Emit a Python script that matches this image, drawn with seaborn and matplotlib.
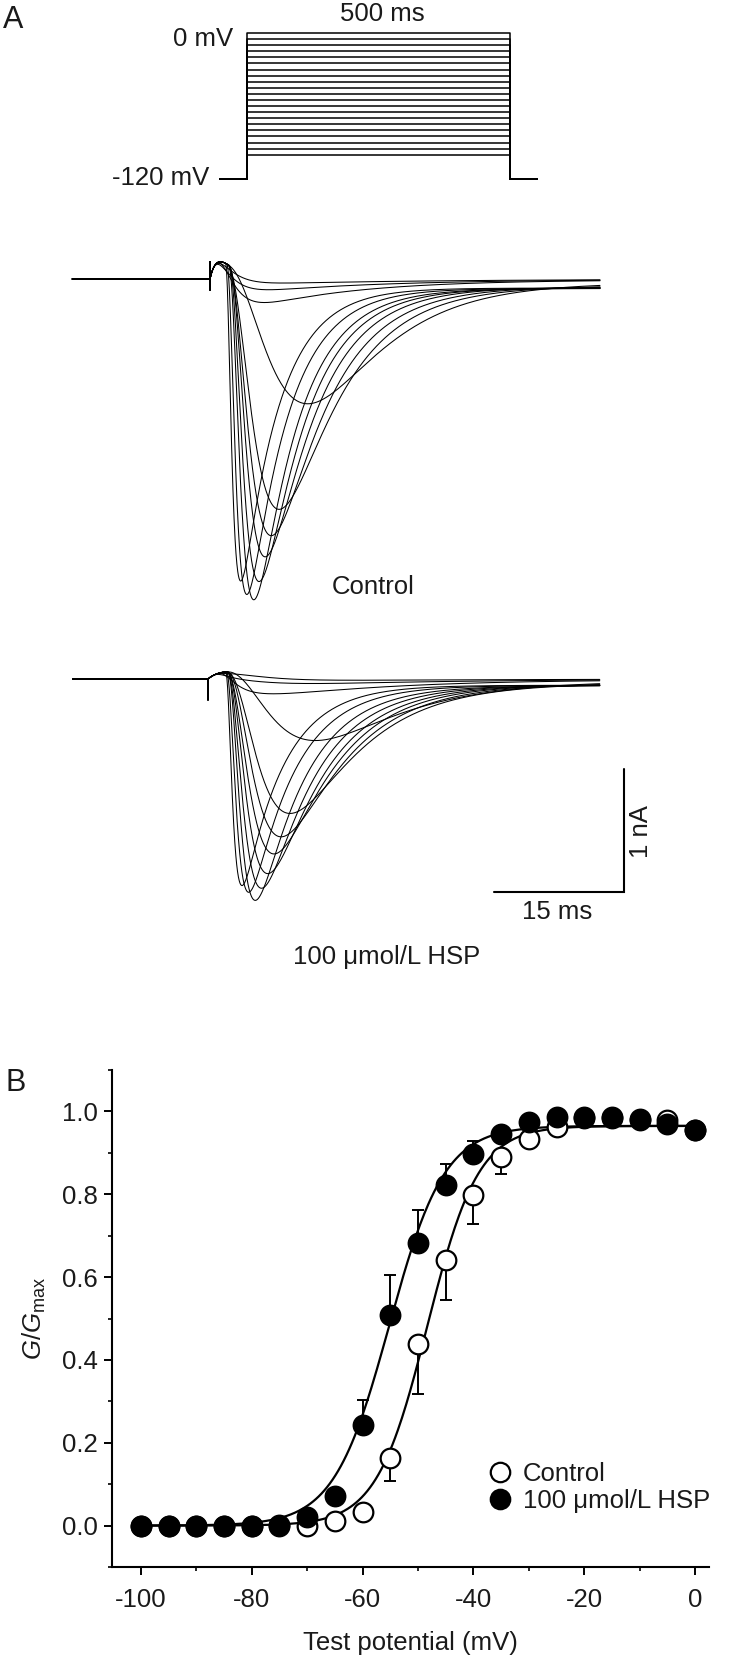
import numpy as np
import pandas as pd
import matplotlib
matplotlib.use("Agg")
import matplotlib.pyplot as plt
from matplotlib.lines import Line2D
from matplotlib.ticker import MultipleLocator
import seaborn as sns

# ---------------- data ----------------
# Panel A: voltage protocol
hold_mV = -120
test_mV = [-100, -95, -90, -85, -80, -75, -70, -65, -60, -55, -50,
           -45, -40, -35, -30, -25, -20, -15, -10, -5, 0]
pre_ms, pulse_ms, post_ms = 51, 500, 51

# Panel A: sodium current sweeps (peak nA, time to peak ms, rise tau ms, decay tau ms)
ctrl_peak_nA = [2.45, 2.54, 2.57, 2.42, 2.22, 2.05, 1.84, 1.00, 0.20, 0.10, 0.04]
ctrl_tpeak_ms = [3.5, 4.2, 5.0, 5.6, 6.3, 7.0, 7.9, 11.2, 5.4, 4.5, 4.2]
ctrl_rise_ms = [0.55, 0.8, 1.1, 1.4, 1.8, 2.3, 3.0, 6.0, 1.5, 1.2, 1.0]
ctrl_decay_ms = [4.2, 4.5, 4.8, 5.1, 5.5, 6.0, 6.5, 7.5, 12, 15, 20]

hsp_peak_nA = [1.69, 1.74, 1.80, 1.70, 1.58, 1.42, 1.28, 1.09, 0.50, 0.15, 0.06, 0.02]
hsp_tpeak_ms = [3.9, 4.65, 5.4, 6.1, 6.8, 7.5, 8.3, 9.3, 12.1, 6.0, 5.0, 4.5]
hsp_rise_ms = [0.6, 0.9, 1.2, 1.6, 2.0, 2.5, 3.0, 3.8, 6.0, 1.5, 1.2, 1.0]
hsp_decay_ms = [4.6, 5.0, 5.4, 5.8, 6.2, 6.6, 7.0, 7.5, 9.0, 14, 18, 20]

# capacitive artefact / outward bump (spike up nA, spike down nA, bump nA, bump time ms)
ctrl_artifact = (0.14, -0.09, 0.14, 1.2)
hsp_artifact = (0.0, -0.17, 0.06, 2.7)
persistent_frac = 0.03
ctrl_t_range = (-15.9, 45.0)
hsp_t_range = (-15.6, 45.2)

# Panel B: G/Gmax vs test potential
V_mV = [-100, -95, -90, -85, -80, -75, -70, -65, -60, -55, -50,
        -45, -40, -35, -30, -25, -20, -15, -10, -5, 0]
ctrl_G = [0.0, 0.0, 0.0, 0.0, 0.0, 0.0, 0.0, 0.010, 0.034, 0.163, 0.438,
          0.641, 0.798, 0.890, 0.934, 0.962, 0.985, 0.985, 0.980, 0.980, 0.955]
ctrl_err = [0, 0, 0, 0, 0, 0, 0.008, 0.012, 0.02, 0.056, 0.12,
            0.096, 0.069, 0.04, 0.015, 0.01, 0.01, 0.01, 0.01, 0.01, 0.01]
hsp_G = [0.0, 0.0, 0.0, 0.0, 0.0, 0.002, 0.021, 0.071, 0.243, 0.508, 0.683,
         0.822, 0.898, 0.945, 0.974, 0.986, 0.987, 0.986, 0.982, 0.969, 0.954]
hsp_err = [0, 0, 0, 0, 0, 0, 0.008, 0.01, 0.06, 0.097, 0.08,
           0.052, 0.03, 0.01, 0.01, 0.01, 0.01, 0.01, 0.01, 0.01, 0.01]
# Boltzmann fits
fit_gmax = 0.965
ctrl_vhalf, ctrl_k = -48.3, 4.6
hsp_vhalf, hsp_k = -55.2, 5.0

# ---------------- style ----------------
sns.set_theme(style="ticks")
plt.rcParams["font.family"] = ["Liberation Sans", "DejaVu Sans"]
plt.rcParams["axes.unicode_minus"] = False
plt.rcParams["mathtext.fontset"] = "custom"
plt.rcParams["mathtext.rm"] = "Liberation Sans"
plt.rcParams["mathtext.it"] = "Liberation Sans:italic"
FS = 18.5
TXT = "#1a1a1a"

W, H = 729, 1664
fig = plt.figure(figsize=(W / 100, H / 100), dpi=100)


def px_axes(x0, x1, y0, y1):
    return fig.add_axes([x0 / W, 1 - y1 / H, (x1 - x0) / W, (y1 - y0) / H])


def lims(p0, p1, a_px, a_val, b_px, b_val):
    s = (b_val - a_val) / (b_px - a_px)
    return a_val + (p0 - a_px) * s, a_val + (p1 - a_px) * s


def ftext(x, y, s, **kw):
    kw.setdefault("fontsize", FS)
    kw.setdefault("color", TXT)
    fig.text(x / W, 1 - y / H, s, **kw)


# ---------------- Panel A: protocol ----------------
rows = []
for v in test_mV:
    ts = [-pre_ms, 0, 0, pulse_ms, pulse_ms, pulse_ms + post_ms]
    vs = [hold_mV, hold_mV, v, v, hold_mV, hold_mV]
    for t_, v_ in zip(ts, vs):
        rows.append((v, t_, v_))
df_prot = pd.DataFrame(rows, columns=["sweep", "t", "V"])
axp = px_axes(200, 560, 10, 200)
sns.lineplot(data=df_prot, x="t", y="V", units="sweep", estimator=None, sort=False,
             color="black", linewidth=1.1, ax=axp, legend=False)
axp.set_xlim(*lims(200, 560, 247, 0, 510, 500))
yb, yt = lims(200, 10, 33, 0, 179, -120)
axp.set_ylim(yb, yt)
axp.axis("off")

ftext(382, 14, "500 ms", ha="center", va="center")
ftext(233, 39, "0 mV", ha="right", va="center")
ftext(209, 178, "-120 mV", ha="right", va="center")
ftext(3, 20, "A", ha="left", va="center", fontsize=22)


# ---------------- Panel A: current traces ----------------
def sweep_current(t, A, tp, tm, th, art):
    up, down, bump_a, bump_t = art
    d = max(tp - tm * np.log(1 + 3 * th / tm), 0.0)
    ss = np.linspace(0, 80, 8001)
    gmax = ((1 - np.exp(-ss / tm)) ** 3 * np.exp(-ss / th)).max()
    s = np.clip(t - d, 0, None)
    act = (1 - np.exp(-s / tm)) ** 3
    i = -A * act * np.exp(-s / th) / gmax - persistent_frac * A * act
    tpos = np.clip(t, 0, None)
    i = i + bump_a * (tpos / bump_t) * np.exp(1 - tpos / bump_t)
    return i


def build_df(peaks, tps, tms, ths, art, trange):
    rows = []
    tt = np.linspace(0.05, trange[1], 1800)
    for k, (A, tp, tm, th) in enumerate(zip(peaks, tps, tms, ths)):
        ii = sweep_current(tt, A, tp, tm, th, art)
        t_all = np.concatenate([[trange[0], 0.0, 0.0, 0.0], tt])
        i_all = np.concatenate([[0.0, 0.0, art[0], art[1]], ii])
        rows.append(pd.DataFrame({"sweep": k, "t": t_all, "I": i_all}))
    return pd.concat(rows, ignore_index=True)


df_c = build_df(ctrl_peak_nA, ctrl_tpeak_ms, ctrl_rise_ms, ctrl_decay_ms, ctrl_artifact, ctrl_t_range)
df_h = build_df(hsp_peak_nA, hsp_tpeak_ms, hsp_rise_ms, hsp_decay_ms, hsp_artifact, hsp_t_range)

axc = px_axes(60, 620, 240, 620)
sns.lineplot(data=df_c, x="t", y="I", units="sweep", estimator=None, sort=False,
             color="black", linewidth=0.75, ax=axc, legend=False)
axc.set_xlim(*lims(60, 620, 210, 0, 340, 15))
yb, yt = lims(620, 240, 279, 0, 402, -1)
axc.set_ylim(yb, yt)
axc.axis("off")
ftext(373, 587, "Control", ha="center", va="center")

axh = px_axes(60, 700, 640, 960)
sns.lineplot(data=df_h, x="t", y="I", units="sweep", estimator=None, sort=False,
             color="black", linewidth=0.75, ax=axh, legend=False)
axh.set_xlim(*lims(60, 700, 208, 0, 338, 15))
yb, yt = lims(960, 640, 679, 0, 802, -1)
axh.set_ylim(yb, yt)
axh.axis("off")
# scale bars: 15 ms, 1 nA
bar_ms, bar_nA = 15, 1
corner_t, corner_I = 48.0, -1.732
axh.plot([corner_t - bar_ms, corner_t, corner_t],
         [corner_I, corner_I, corner_I + bar_nA], color="black", lw=1.5,
         solid_joinstyle="miter", clip_on=False)
ftext(557, 912, "15 ms", ha="center", va="center")
ftext(641, 832, "1 nA", ha="center", va="center", rotation=90)
ftext(387, 957, "100 \u03bcmol/L HSP", ha="center", va="center")

# ---------------- Panel B ----------------
axb = px_axes(112, 709, 1070, 1567)
Vfit = np.linspace(-100, 0, 400)
fit_c = fit_gmax / (1 + np.exp((ctrl_vhalf - Vfit) / ctrl_k))
fit_h = fit_gmax / (1 + np.exp((hsp_vhalf - Vfit) / hsp_k))
sns.lineplot(x=Vfit, y=fit_c, color="black", linewidth=1.6, ax=axb, zorder=2)
sns.lineplot(x=Vfit, y=fit_h, color="black", linewidth=1.6, ax=axb, zorder=2)

V = np.array(V_mV)
# one-sided error bars: control downward, HSP upward
axb.errorbar(V, ctrl_G, yerr=[ctrl_err, np.zeros(len(V))], fmt="none", ecolor="black",
             elinewidth=1.4, capsize=4, capthick=1.4, zorder=3)
axb.errorbar(V, hsp_G, yerr=[np.zeros(len(V)), hsp_err], fmt="none", ecolor="black",
             elinewidth=1.4, capsize=4, capthick=1.4, zorder=3)
sns.scatterplot(x=V, y=ctrl_G, marker="o", s=200, facecolor="white", edgecolor="black",
                linewidth=1.6, ax=axb, zorder=4)
sns.scatterplot(x=V, y=hsp_G, marker="o", s=200, color="black", edgecolor="black",
                linewidth=1.6, ax=axb, zorder=5)

axb.set_xlim(-105.2, 2.5)
axb.set_ylim(-0.1, 1.1)
axb.xaxis.set_major_locator(MultipleLocator(20))
axb.xaxis.set_minor_locator(MultipleLocator(10))
axb.yaxis.set_major_locator(MultipleLocator(0.2))
axb.yaxis.set_minor_locator(MultipleLocator(0.1))
axb.set_xticks([-100, -80, -60, -40, -20, 0])
axb.set_yticks([0.0, 0.2, 0.4, 0.6, 0.8, 1.0])
axb.set_yticklabels(["0.0", "0.2", "0.4", "0.6", "0.8", "1.0"])
sns.despine(ax=axb)
for sp in ("left", "bottom"):
    axb.spines[sp].set_linewidth(1.5)
    axb.spines[sp].set_color("black")
axb.tick_params(axis="both", which="major", direction="out", length=6, width=1.4,
                labelsize=FS, colors="black", labelcolor=TXT)
axb.tick_params(axis="both", which="minor", direction="out", length=3, width=1.2, colors="black")
axb.tick_params(axis="x", which="major", pad=9)
axb.tick_params(axis="y", which="major", pad=4)
axb.set_xlabel("Test potential (mV)", fontsize=FS, color=TXT, labelpad=14)
axb.set_ylabel(r"$\mathit{G}/\mathit{G}_{\mathrm{max}}$", fontsize=FS, color=TXT, labelpad=10)

handles = [
    Line2D([], [], marker="o", linestyle="none", markersize=14, markerfacecolor="white",
           markeredgecolor="black", markeredgewidth=1.6),
    Line2D([], [], marker="o", linestyle="none", markersize=14, markerfacecolor="black",
           markeredgecolor="black", markeredgewidth=1.6),
]
leg = axb.legend(handles, ["Control", "100 \u03bcmol/L HSP"], loc="upper left",
                 bbox_to_anchor=(487 / W, 1 - 1462 / H), bbox_transform=fig.transFigure,
                 frameon=False, fontsize=FS, handlelength=1.0, handletextpad=0.4,
                 labelspacing=0.1, borderpad=0, borderaxespad=0)
for t in leg.get_texts():
    t.set_color(TXT)

ftext(5, 1083, "B", ha="left", va="center", fontsize=22)

fig.savefig("out.png", dpi=100, facecolor="white")
